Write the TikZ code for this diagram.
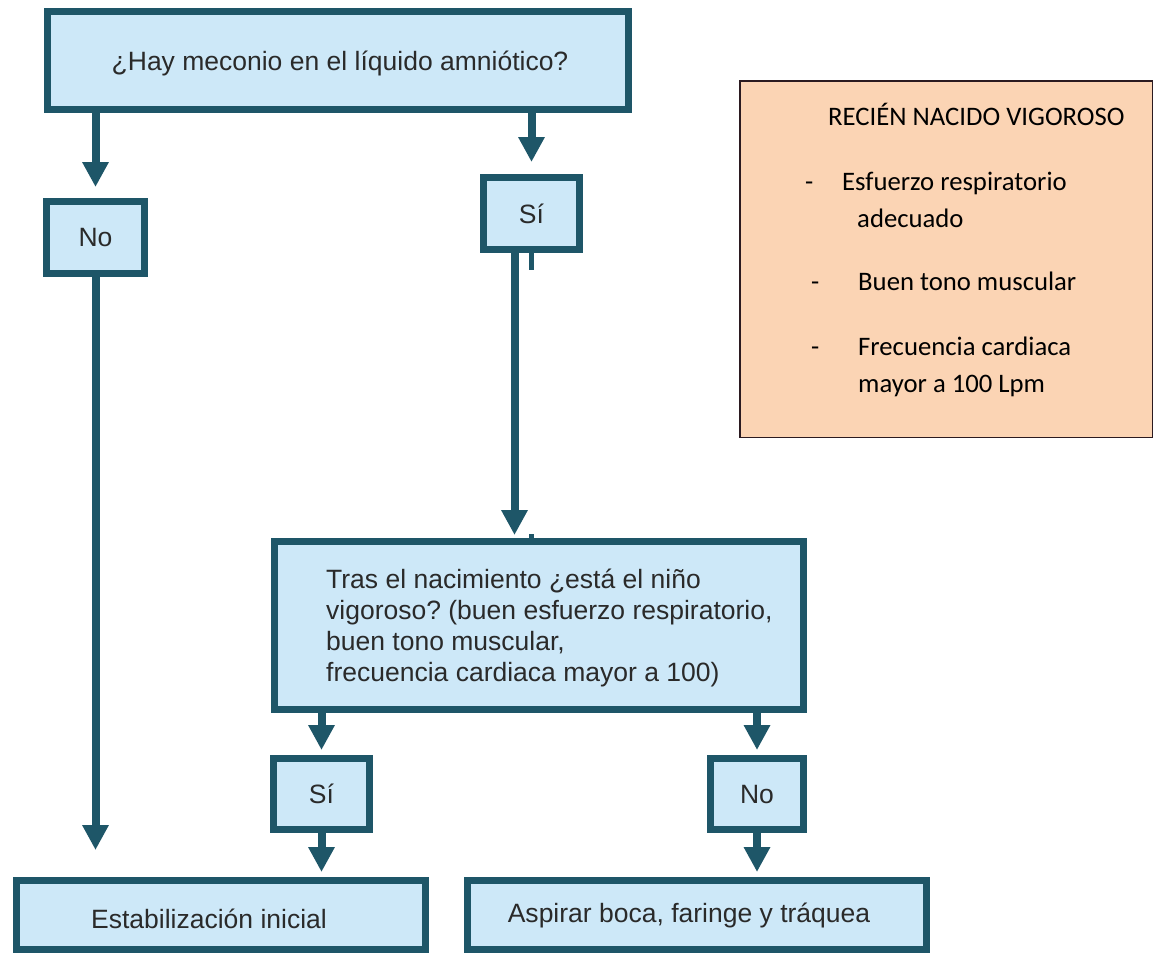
\documentclass[tikz,border=0pt]{standalone}
\usepackage{fontspec}
\setmainfont{Liberation Sans}
\newfontfamily\calibrifont{Carlito}
\usetikzlibrary{arrows.meta}
\frenchspacing

\definecolor{edgeteal}{HTML}{1E5668}
\definecolor{boxblue}{HTML}{CDE8F8}
\definecolor{boxtext}{HTML}{2A2A2A}
\definecolor{peach}{HTML}{FBD4B4}
\definecolor{peachedge}{HTML}{2B1A20}

\tikzset{
  flowfont/.style={font=\fontsize{26.5}{31}\selectfont},
  flowbox/.style={draw=edgeteal, fill=boxblue, line width=7pt, text=boxtext,
    inner sep=0pt, flowfont},
  arr/.style={draw=edgeteal, line width=8pt,
    -{Triangle[width=25pt,length=25pt]}},
  stub/.style={draw=edgeteal, line width=5pt},
  notebox/.style={draw=peachedge, fill=peach, line width=1.5pt, inner sep=0pt},
  notetext/.style={anchor=base west, inner sep=0pt, text=black,
    font=\calibrifont\fontsize{26.7}{32}\selectfont},
}

\begin{document}
\begin{tikzpicture}[x=1pt, y=-1pt]
\useasboundingbox[fill=white] (0,0) rectangle (1155,956);

% question boxes
\node[flowbox, minimum width=581pt, minimum height=98pt] (q1) at (338,60.5) {};
\node[flowfont, text=boxtext] (q1text) at (340,63)
  {¿Hay meconio en el líquido amniótico?};
\node[flowbox, minimum width=98pt, minimum height=72pt] (no) at (95.5,237.5) {No};
\node[flowbox, minimum width=96pt, minimum height=72pt] (si) at (531.5,213.5) {Sí};
\node[flowbox, minimum width=529pt, minimum height=168pt] (q2) at (539,625.5) {};
\node[flowfont, text=boxtext, align=left, anchor=west, inner sep=0pt] (q2text)
  at (326,628)
  {Tras el nacimiento ¿está el niño\\
   vigoroso? (buen esfuerzo respiratorio,\\
   buen tono muscular,\\
   frecuencia cardiaca mayor a 100)};
\node[flowbox, minimum width=96pt, minimum height=71pt] (si2) at (321.5,794) {Sí};
\node[flowbox, minimum width=93pt, minimum height=71pt] (no2) at (757,794) {No};

% outcome boxes
\node[flowbox, minimum width=409pt, minimum height=69pt] (stab) at (221,915) {};
\node[flowfont, text=boxtext] (stabtext) at (209,919)
  {Estabilización inicial};
\node[flowbox, minimum width=459pt, minimum height=69pt] (asp) at (697,915) {};
\node[flowfont, text=boxtext] (asptext) at (689,915)
  {Aspirar boca, faringe y tráquea};

% connectors
\draw[arr] (q1.south -| no.north) -- ([yshift=11pt]no.north);
\draw[arr] (q1.south -| si.north) -- ([yshift=12pt]si.north);
\draw[arr] (no.south) -- ([yshift=27pt]no.south |- stab.north);
\coordinate (stubend) at (531.5,270);
\draw[stub] (si.south) -- (stubend);
\draw[arr] ([xshift=-17pt]si.south) -- ([xshift=-17pt,yshift=3pt]si.south |- q2.north);
\coordinate (bump) at (531,534);
\draw[stub] (bump) -- (bump |- q2.north);
\draw[arr] (q2.south -| si2.north) -- ([yshift=5pt]si2.north);
\draw[arr] (q2.south -| no2.north) -- ([yshift=5pt]no2.north);
\draw[arr] (si2.south) -- ([yshift=5pt]si2.south |- stab.north);
\draw[arr] (no2.south) -- ([yshift=5pt]no2.south |- asp.north);

% side note
\node[notebox, minimum width=412.5pt, minimum height=356.5pt] (note) at (946,259) {};
\node[notetext] (ntitle) at (828,125) {RECIÉN NACIDO VIGOROSO};
\node[notetext] (d1) at (805,190) {-};
\node[notetext] (n1a) at (842,190) {Esfuerzo respiratorio};
\node[notetext] (n1b) at (857,227) {adecuado};
\node[notetext] (d2) at (811,290) {-};
\node[notetext] (n2) at (858,290) {Buen tono muscular};
\node[notetext] (d3) at (811,355) {-};
\node[notetext] (n3a) at (858,355) {Frecuencia cardiaca};
\node[notetext] (n3b) at (858,392) {mayor a 100 Lpm};
\end{tikzpicture}
\end{document}
